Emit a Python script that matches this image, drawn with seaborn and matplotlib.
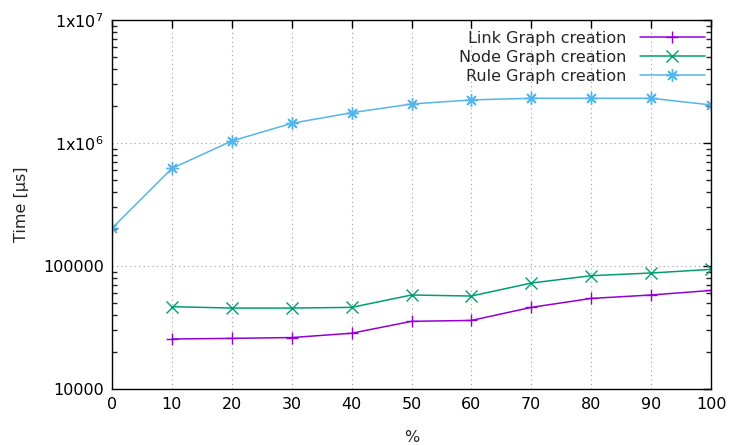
import matplotlib
matplotlib.use("Agg")
import matplotlib.pyplot as plt
import seaborn as sns
import pandas as pd
import numpy as np
from matplotlib.ticker import FixedLocator, FixedFormatter, LogLocator, NullFormatter
from matplotlib.lines import Line2D

pct = [0, 10, 20, 30, 40, 50, 60, 70, 80, 90, 100]
link = [np.nan, 25500, 25800, 26200, 28400, 35500, 36100, 46100, 54500, 58100, 63300]
node = [np.nan, 46700, 45500, 45500, 46100, 58100, 57000, 72700, 83400, 87700, 93900]
rule = [203000, 622000, 1038000, 1446000, 1763000, 2075000, 2240000, 2310000, 2310000, 2310000, 2040000]

series_names = ["Link Graph creation", "Node Graph creation", "Rule Graph creation"]
colors = ["#9400d3", "#009e73", "#56b4e9"]
markers = ["+", "x", (8, 2, 0)]

df = pd.DataFrame({"pct": pct * 3,
                   "time": link + node + rule,
                   "series": sum([[n] * len(pct) for n in series_names], [])})

sns.set_style("white")
plt.rcParams['font.family'] = ['DejaVu Sans']

fig = plt.figure(figsize=(7.29, 4.45), dpi=100)
ax = fig.add_axes([112/729, 1-389/445, (711-112)/729, (389-20)/445])

for name, c, m in zip(series_names, colors, markers):
    sub = df[df.series == name].dropna()
    sns.lineplot(data=sub, x="pct", y="time", ax=ax, color=c, marker=m,
                 markersize=9, markeredgewidth=1.0, markeredgecolor=c,
                 linewidth=1.1, legend=False)

ax.set_yscale("log")
ax.set_xlim(0, 100)
ax.set_ylim(1e4, 1e7)
ax.set_xticks(range(0, 101, 10))
ax.yaxis.set_major_locator(FixedLocator([1e4, 1e5, 1e6, 1e7]))
ax.yaxis.set_major_formatter(FixedFormatter(["10000", "100000", r"1x10$^{6}$", r"1x10$^{7}$"]))
ax.yaxis.set_minor_locator(LogLocator(base=10, subs=np.arange(2, 10)))
ax.yaxis.set_minor_formatter(NullFormatter())

ax.grid(True, which="major", color="#a0a0a0", linestyle=(0, (1, 3)), linewidth=0.8)
ax.tick_params(axis="both", which="major", direction="in", length=6, width=1,
               top=True, right=True, labelsize=11.5, colors="black", pad=6)
ax.tick_params(axis="y", which="minor", direction="in", length=3.5, width=1, right=True, left=True)
for s in ax.spines.values():
    s.set_color("black")
    s.set_linewidth(1)

ax.set_xlabel("%", fontsize=11.5, labelpad=13)
ax.set_ylabel("Time [µs]", fontsize=11.5, labelpad=10)

handles = [Line2D([], [], color=c, marker=m, markersize=9, markeredgewidth=1.0,
                  markeredgecolor=c, linewidth=1.1)
           for c, m in zip(colors, markers)]
leg = ax.legend(handles, series_names, loc="upper right", frameon=False, fontsize=11.5,
                markerfirst=False, numpoints=1,
                handlelength=4.1, handletextpad=0.8, labelspacing=0.25,
                borderpad=0, borderaxespad=0,
                bbox_to_anchor=(705/729, 1-31/445), bbox_transform=fig.transFigure)
for t in leg.get_texts():
    t.set_ha("right")

fig.savefig("out.png", dpi=100)
